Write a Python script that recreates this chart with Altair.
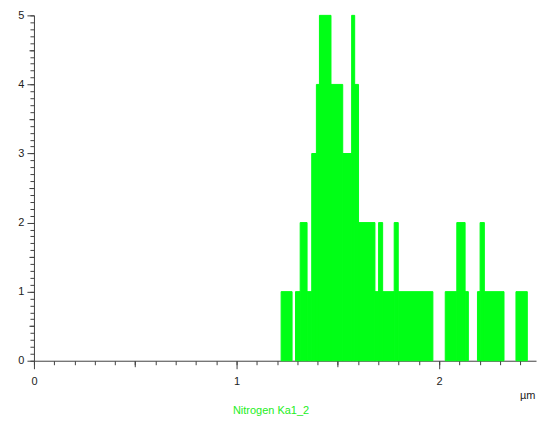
import altair as alt
import pandas as pd

# Histogram segments (left edge, right edge, count), in µm
x_start = [1.220, 1.291, 1.314, 1.348, 1.371, 1.394, 1.409, 1.466, 1.524, 1.568, 1.583, 1.602,
           1.683, 1.701, 1.721, 1.778, 1.798, 2.030, 2.087, 2.128, 2.189, 2.202, 2.223, 2.379]
x_end = [1.274, 1.314, 1.348, 1.371, 1.394, 1.409, 1.466, 1.524, 1.568, 1.583, 1.602, 1.683,
         1.701, 1.721, 1.778, 1.798, 1.969, 2.087, 2.128, 2.144, 2.202, 2.223, 2.320, 2.435]
counts = [1, 1, 2, 1, 3, 4, 5, 4, 3, 5, 4, 2, 1, 2, 1, 2, 1, 1, 2, 1, 1, 2, 1, 1]

# Axis tick values
x_major = [0, 1, 2]
x_half = [0.5, 1.5]
x_minor = [round(i * 0.1, 1) for i in range(25)]
y_major = [0, 1, 2, 3, 4, 5]
y_half = [0.5, 1.5, 2.5, 3.5, 4.5]
y_minor = [round(i * 0.1, 1) for i in range(51)]

x_title = "µm"
series_title = "Nitrogen Ka1_2"

GREEN = "#00ff16"
AXIS = "#404040"
FONT = "Liberation Sans"

df = pd.DataFrame({"x0": x_start, "x1": x_end, "n": counts})
df["b"] = 0

xs = alt.Scale(domain=[0, 2.478], nice=False, zero=False)
ys = alt.Scale(domain=[0, 5], nice=False, zero=True)

W, H = 503, 346


def xaxis(values, size, main=False, **kw):
    return alt.Axis(values=values, tickSize=size, orient="bottom", labels=main, domain=main,
                    grid=False, tickColor=AXIS, domainColor=AXIS, labelColor="#222",
                    labelFont=FONT, labelFontSize=11, labelPadding=7, labelFlush=False,
                    **kw)


def yaxis(values, size, main=False, **kw):
    return alt.Axis(values=values, tickSize=size, orient="left", labels=main, domain=main,
                    grid=False, tickColor=AXIS, domainColor=AXIS, labelColor="#222",
                    labelFont=FONT, labelFontSize=11, labelPadding=3, labelFlush=False,
                    title=None, **kw)


bars = alt.Chart(df).mark_rect(color=GREEN, stroke=GREEN, strokeWidth=1).encode(
    x=alt.X("x0:Q", scale=xs,
            axis=xaxis(x_major, 8, main=True, title=x_title, titleX=502, titleY=35,
                       titleAlign="right", titleBaseline="middle", titleFont=FONT,
                       titleFontSize=11, titleFontWeight="normal", titleColor="#222")),
    x2="x1:Q",
    y=alt.Y("n:Q", scale=ys, axis=yaxis(y_major, 7, main=True)),
    y2="b:Q",
)

half = alt.Chart(df).mark_rect(opacity=0).encode(
    x=alt.X("x0:Q", scale=xs,
            axis=xaxis(x_half, 6, title=series_title, titleX=237, titleY=50,
                       titleAlign="center", titleBaseline="middle", titleFont=FONT,
                       titleFontSize=11, titleFontWeight="normal", titleColor="#22ee22")),
    y=alt.Y("n:Q", scale=ys, axis=yaxis(y_half, 5)),
)

minor = alt.Chart(df).mark_rect(opacity=0).encode(
    x=alt.X("x0:Q", scale=xs, axis=xaxis(x_minor, 4, title=None)),
    y=alt.Y("n:Q", scale=ys, axis=yaxis(y_minor, 4)),
)

chart = alt.layer(bars, half, minor).resolve_axis(
    x="independent", y="independent"
).properties(
    width=W, height=H,
    autosize=alt.AutoSizeParams(type="none"),
    padding={"left": 26, "top": 7, "right": 10, "bottom": 55},
    background="white",
).configure_view(stroke=None)

chart.save("out.html", embed_options={"renderer": "svg", "actions": False})
